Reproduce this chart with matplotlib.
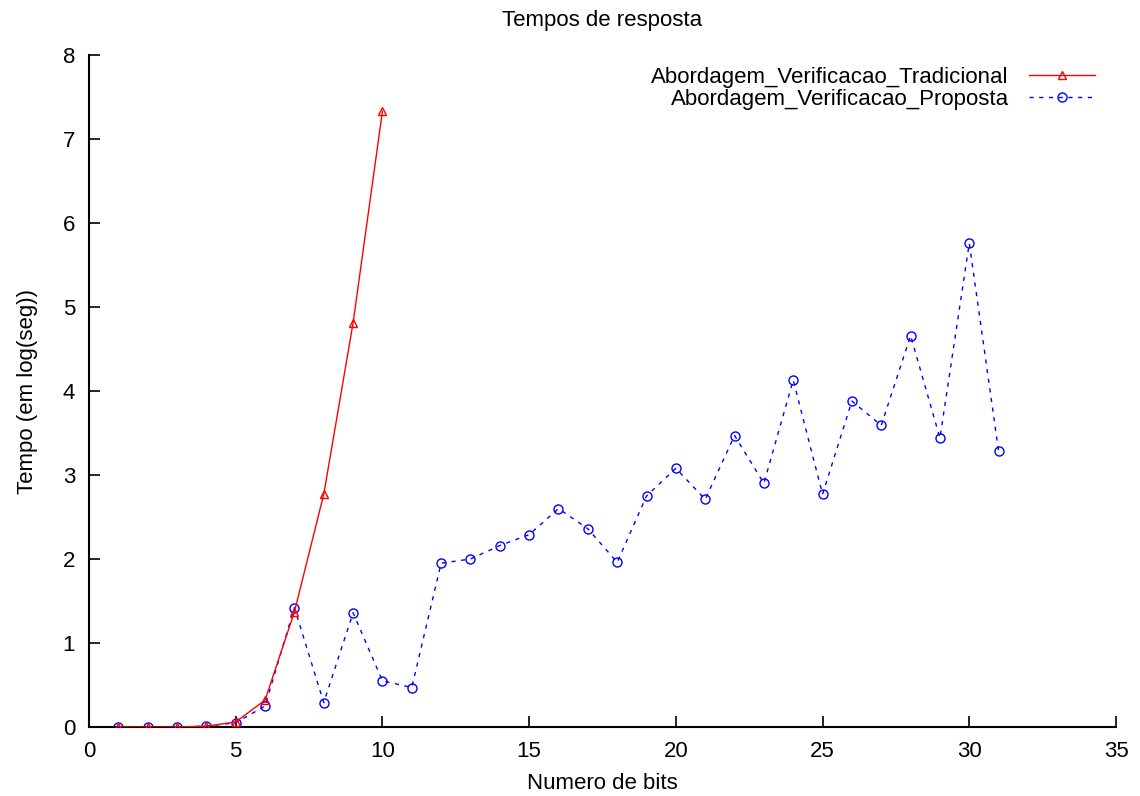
import matplotlib
matplotlib.use("Agg")
import matplotlib.pyplot as plt

plt.rcParams['font.family'] = ['Liberation Sans', 'DejaVu Sans']

x_trad = [1, 2, 3, 4, 5, 6, 7, 8, 9, 10]
y_trad = [0.0, 0.0, 0.0, 0.01, 0.06, 0.32, 1.37, 2.77, 4.81, 7.33]

x_prop = list(range(1, 32))
y_prop = [0.0, 0.0, 0.0, 0.01, 0.05, 0.25, 1.42, 0.29, 1.36, 0.55, 0.47,
          1.95, 2.00, 2.16, 2.29, 2.60, 2.36, 1.96, 2.75, 3.08, 2.71,
          3.47, 2.90, 4.13, 2.77, 3.88, 3.59, 4.66, 3.44, 5.76, 3.28]

xticks = [0, 5, 10, 15, 20, 25, 30, 35]
yticks = [0, 1, 2, 3, 4, 5, 6, 7, 8]

fig = plt.figure(figsize=(11.4, 7.96), dpi=100)
ax = fig.add_axes([89/1140, 69/796, (1116-89)/1140, (727-55)/796])

ax.plot(x_trad, y_trad, color='#ff0000', lw=1.0, marker='^', markersize=6,
        markerfacecolor='none', markeredgecolor='#ff0000', markeredgewidth=1.0,
        label='Abordagem_Verificacao_Tradicional', zorder=3)
ax.plot(x_prop, y_prop, color='#0000ff', lw=1.0, linestyle=(0, (3, 4)), marker='o',
        markersize=6.5, markerfacecolor='none', markeredgecolor='#0000ff',
        markeredgewidth=1.0, label='Abordagem_Verificacao_Proposta', zorder=2)

ax.set_xlim(0, 35)
ax.set_ylim(0, 8)
ax.set_xticks(xticks)
ax.set_yticks(yticks)
ax.tick_params(direction='in', length=8, width=1.2, labelsize=16, pad=10)
for s in ['top', 'right']:
    ax.spines[s].set_visible(False)
for s in ['left', 'bottom']:
    ax.spines[s].set_linewidth(1.5)

ax.set_title('Tempos de resposta', fontsize=16, pad=21)
ax.set_xlabel('Numero de bits', fontsize=16, labelpad=8)
ax.set_ylabel('Tempo (em log(seg))', fontsize=16, labelpad=18)

leg = ax.legend(loc='upper right', frameon=False, fontsize=16, markerfirst=False,
                handlelength=3.0, handletextpad=0.9, borderaxespad=0.3,
                labelspacing=0.05, bbox_to_anchor=(0.995, 1.006))
for t in leg.get_texts():
    t.set_ha('right')

fig.savefig('out.png', dpi=100)
